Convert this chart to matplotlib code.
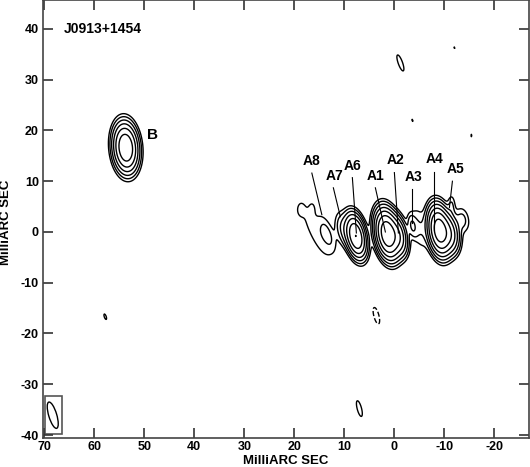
import numpy as np
import matplotlib.pyplot as plt
from matplotlib.patches import Rectangle, Ellipse

plt.rcParams["font.family"] = ["Liberation Sans", "DejaVu Sans"]
plt.rcParams["font.weight"] = "bold"
plt.rcParams["axes.unicode_minus"] = False

# gaussian components of the map (mas, relative flux, sigma in mas, PA deg N through E)
comp_name = ["B", "A6", "A7", "A1", "A2", "A3", "bridge", "A4", "A5", "A5b", "east",
             "A8", "A8band", "A8finger", "A8tip",
             "n1", "n2", "n3", "n4", "n5", "n6", "neg1"]
comp_x = [53.7, 7.7, 10.2, 1.4, -0.8, -3.6, -5.0, -9.0, -11.0, -11.4, -13.6,
          13.4, 15.8, 16.4, 18.8,
          -1.2, -12.0, -3.6, -15.4, 57.8, 7.0, 3.6]
comp_y = [16.6, -0.8, 0.5, -0.4, -0.8, 1.2, 0.8, 0.3, -0.3, 5.2, 2.4,
          -0.3, 0.2, 4.8, 4.2,
          33.3, 36.3, 22.0, 19.0, -16.7, -34.8, -16.5]
comp_peak = [60, 64, 4, 112, 25, 4, 2.0, 100, 25, 2.0, 2.5,
             2.3, 1.5, 0.8, 0.9,
             1.3, 1.02, 1.03, 1.03, 1.1, 1.3, -1.3]
comp_smaj = [2.35, 2.1, 2.0, 2.3, 2.0, 1.4, 2.8, 2.3, 2.0, 1.4, 1.6,
             2.4, 5.0, 1.0, 1.0,
             2.3, 1.0, 1.0, 1.0, 1.3, 2.2, 2.3]
comp_smin = [1.2, 0.95, 0.9, 1.1, 0.9, 0.55, 1.0, 1.05, 1.0, 0.5, 0.9,
             0.85, 1.2, 0.5, 0.6,
             0.6, 0.3, 0.3, 0.3, 0.45, 0.6, 0.7]
comp_pa = [5, 12, 12, 10, 10, 10, 10, 8, 8, 0, 10,
           20, 25, 0, 0,
           20, 20, 20, 0, 20, 15, 15]

levels = [-1, 1, 2, 4, 8, 16, 32, 64, 128]

labels = ["A8", "A7", "A6", "A1", "A2", "A3", "A4", "A5"]
label_x = [16.5, 12.0, 8.4, 3.8, -0.2, -3.8, -8.0, -12.2]
label_y = [12.6, 9.7, 11.7, 9.7, 12.8, 9.5, 13.0, 11.0]
lead_x0 = [16.5, 12.2, 8.4, 3.8, 0.0, -3.6, -8.0, -11.6]
lead_y0 = [11.6, 8.7, 10.7, 8.7, 11.7, 8.5, 11.8, 10.0]
lead_x1 = [14.5, 10.8, 7.6, 1.8, -0.8, -3.6, -8.0, -11.0]
lead_y1 = [3.4, 3.0, -0.2, 0.0, -0.2, 1.8, 0.4, 4.8]

beam_x, beam_y = 68.3, -36.1
beam_maj, beam_min, beam_pa = 5.4, 1.6, 17

xg = np.linspace(-28, 72, 1000)
yg = np.linspace(-42, 47, 900)
X, Y = np.meshgrid(xg, yg)
img = np.zeros_like(X)
for x0, y0, p, sa, sb, pa in zip(comp_x, comp_y, comp_peak, comp_smaj, comp_smin, comp_pa):
    t = np.radians(pa)
    dx, dy = X - x0, Y - y0
    a = dx * np.sin(t) + dy * np.cos(t)
    b = dx * np.cos(t) - dy * np.sin(t)
    img += p * np.exp(-0.5 * (a ** 2 / sa ** 2 + b ** 2 / sb ** 2))

fig = plt.figure(figsize=(5.3, 4.67), dpi=100)
ax = fig.add_axes([0.081, 0.062, 0.917, 0.938])
ax.contour(X, Y, img, levels=[levels[0]], colors="black", linewidths=1.0, linestyles="--")
ax.contour(X, Y, img, levels=levels[1:], colors="black", linewidths=1.0, linestyles="-")

ax.add_patch(Rectangle((69.9, -39.8), -3.4, 7.5, fill=False, ec="#555555", lw=1.2))
# x axis is reversed, so the patch angle is mirrored
ax.add_patch(Ellipse((beam_x, beam_y), beam_min, beam_maj, angle=-beam_pa,
                     fill=False, ec="black", lw=1.0))

for lab, lx, ly, x0, y0, x1, y1 in zip(labels, label_x, label_y, lead_x0, lead_y0, lead_x1, lead_y1):
    ax.text(lx, ly, lab, ha="center", va="bottom", fontsize=10, fontweight="bold")
    ax.plot([x0, x1], [y0, y1], color="black", lw=0.8)
ax.text(48.4, 19.1, "B", ha="center", va="center", fontsize=11, fontweight="bold")
ax.text(66.0, 40.0, "J0913+1454", ha="left", va="center", fontsize=10, fontweight="bold")

ax.set_xlim(70.26, -26.9)
ax.set_ylim(-40.6, 45.7)
ax.set_xticks(np.arange(70, -30, -10))
ax.set_yticks(np.arange(-40, 50, 10))
ax.tick_params(direction="in", length=7, width=1.2, color="#333333", top=True, right=True,
               labelsize=9)
ax.tick_params(axis="x", pad=2)
ax.tick_params(axis="y", pad=3)
for s in ax.spines.values():
    s.set_color("#444444")
    s.set_linewidth(1.2)
fig.text(286 / 530, 1 - 461 / 467, "MilliARC SEC", ha="center", va="center",
         fontsize=9.5, fontweight="bold")
fig.text(6 / 530, 1 - 222 / 467, "MilliARC SEC", ha="center", va="center", rotation=90,
         fontsize=9.5, fontweight="bold")

fig.savefig("out.png", dpi=100)
